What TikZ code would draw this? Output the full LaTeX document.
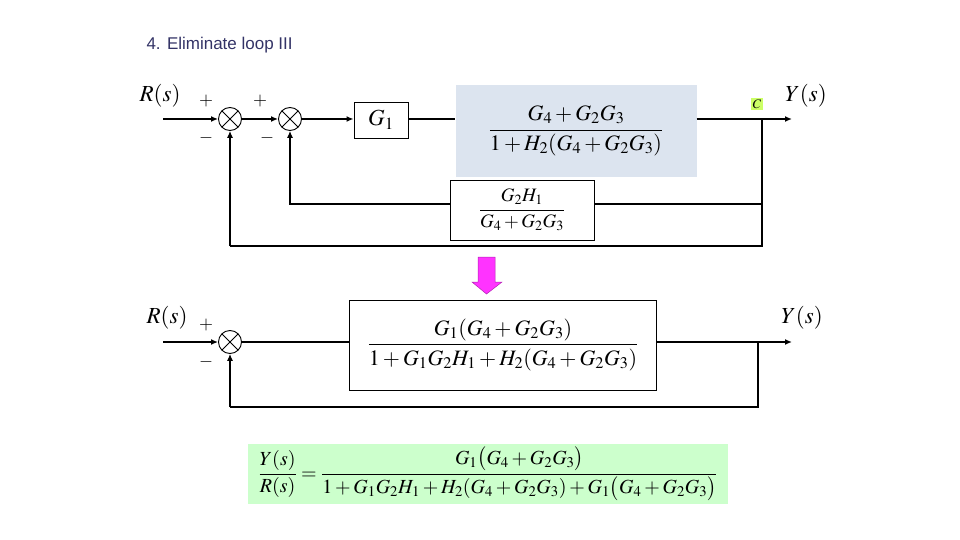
\documentclass[tikz,border=0pt]{standalone}
\usepackage{amsmath}
\usepackage{fontspec}
\usepackage{mathptmx}
\setsansfont{Liberation Sans}
\usepackage{xcolor}
\usepackage{tikz}
\usetikzlibrary{arrows.meta, positioning}
\definecolor{titlenavy}{HTML}{333366}
\definecolor{loopblue}{HTML}{DCE4EF}
\definecolor{resgreen}{HTML}{CCFFCC}
\definecolor{cmark}{HTML}{CCFF66}
\definecolor{downpink}{HTML}{FF33FF}
\tikzset{
  sumpt/.style={circle, draw=black, line width=0.9pt, minimum size=23pt, inner sep=0pt,
    path picture={\draw[line width=0.8pt] (path picture bounding box.north west)--(path picture bounding box.south east)
      (path picture bounding box.north east)--(path picture bounding box.south west);}},
  blk/.style={rectangle, draw=black, line width=0.9pt, align=center, inner sep=2pt},
  sig/.style={font=\fontsize{23}{25}\selectfont, inner sep=0pt},
  sgn/.style={font=\fontsize{18}{20}\selectfont, inner sep=0pt},
  fwd/.style={line width=1.6pt},
  fb/.style={line width=1.1pt},
  arr/.style={-{Latex[length=7pt, width=6pt]}},
}
\begin{document}
\begin{tikzpicture}[x=1pt, y=-1pt]
\useasboundingbox (0,0) rectangle (960,540);
\node[anchor=west, font=\sffamily\fontsize{17}{19}\selectfont, text=titlenavy] (title) at (143,45) {4. Eliminate loop III};
% loop III still in place
\node[sig] (r1) at (160,96) {$R(s)$};
\node[sgn] (p1) at (206,101) {$+$};
\node[sgn] (m1) at (206,138) {$-$};
\node[sumpt] (s1) at (230,119) {};
\node[sgn] (p2) at (260,101) {$+$};
\node[sgn] (m2) at (267,138) {$-$};
\node[sumpt] (s2) at (290,119) {};
\node[blk, minimum width=54pt, minimum height=36pt, font=\fontsize{23}{25}\selectfont] (g1) at (381,120) {$G_1$};
\node[rectangle, fill=loopblue, minimum width=241pt, minimum height=92pt, font=\fontsize{22}{25}\selectfont] (inner) at (576,131) {$\dfrac{G_4+G_2G_3}{1+H_2(G_4+G_2G_3)}$};
\node[blk, minimum width=144pt, minimum height=60pt, font=\fontsize{19}{22}\selectfont] (h1) at (522,210) {$\dfrac{G_2H_1}{G_4+G_2G_3}$};
\node[fill=cmark, inner sep=2pt, font=\fontsize{13}{14}\selectfont] (c) at (757,104) {$C$};
\node[sig] (y1) at (806,96) {$Y(s)$};
\coordinate (st1) at (163,119);
\coordinate (br1) at (762,119);
\coordinate (out1) at (792,119);
\coordinate (lo1) at (230,246);
\draw[fwd, arr] (st1)--(s1.west);
\draw[fwd, arr] (s1)--(s2.west);\draw[fwd, arr] (s2)--(s2 -| g1.west);\draw[fwd] (s2 -| g1.east)--(s2 -| inner.west);\draw[fwd, arr] (s2 -| inner.east)--(out1);
\draw[fb] (br1) |- ([yshift=6pt]h1.east);\draw[fb, arr] ([yshift=6pt]h1.west) -| (s2.south);
\draw[fb] (br1) |- (lo1);\draw[fb, arr] (lo1)--(s1.south);
% pink arrow
\fill[downpink, draw=downpink!70!black, line width=0.5pt] (478,257)--(495,257)--(495,282)--(502,282)--(486.5,294)--(472,282)--(478,282)--cycle;
% reduced loop
\node[sig] (r2) at (167,318) {$R(s)$};
\node[sgn] (p3) at (206,325) {$+$};
\node[sgn] (m3) at (206,362) {$-$};
\node[sumpt] (s3) at (230,342) {};
\node[blk, minimum width=307pt, minimum height=90pt, font=\fontsize{22}{25}\selectfont] (fw) at (503,345) {$\dfrac{G_1(G_4+G_2G_3)}{1+G_1G_2H_1+H_2(G_4+G_2G_3)}$};
\node[sig] (y2) at (802,318) {$Y(s)$};
\coordinate (st2) at (163,342);
\coordinate (br2) at (758,342);
\coordinate (out2) at (792,342);
\coordinate (lo2) at (230,407);
\draw[fwd, arr] (st2)--(s3.west);
\draw[fwd] (s3)--(s3 -| fw.west);\draw[fwd, arr] (s3 -| fw.east)--(out2);
\draw[fb] (br2) |- (lo2);\draw[fb, arr] (lo2)--(s3.south);
% closed loop result
\node[fill=resgreen, minimum width=480pt, minimum height=59pt, font=\fontsize{20}{23}\selectfont] (res) at (488,474) {$\dfrac{Y(s)}{R(s)}=\dfrac{G_1\bigl(G_4+G_2G_3\bigr)}{1+G_1G_2H_1+H_2(G_4+G_2G_3)+G_1\bigl(G_4+G_2G_3\bigr)}$};
\end{tikzpicture}
\end{document}
